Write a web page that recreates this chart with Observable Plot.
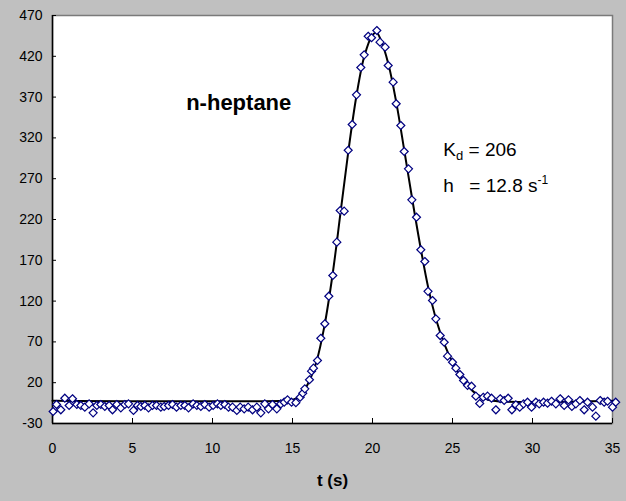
<!DOCTYPE html>
<html><head><meta charset="utf-8">
<script src="https://cdn.jsdelivr.net/npm/d3@7"></script>
<script src="https://cdn.jsdelivr.net/npm/@observablehq/plot@0.6"></script>
<style>html,body{margin:0;padding:0;background:#c0c0c0;}</style>
</head><body><div id="chart"></div>
<script>
// measured points (t in s, signal)
const tData = [0.04,0.25,0.52,0.77,1.04,1.25,1.52,1.77,2.02,2.29,2.54,2.77,3.02,3.27,3.54,3.75,4.02,4.27,4.52,4.75,
  5.06,5.31,5.52,5.77,6.0,6.25,6.5,6.77,6.98,7.25,7.5,7.75,8.02,8.27,8.5,8.79,9.02,9.27,9.52,9.79,
  10.04,10.31,10.52,10.77,11.0,11.25,11.52,11.73,11.98,12.23,12.5,12.77,13.02,13.27,13.5,13.75,14.02,14.27,14.48,14.69,
  14.94,15.21,15.48,15.64,15.77,16.06,16.19,16.31,16.56,16.77,17.02,17.27,17.52,17.77,17.98,18.23,18.48,18.73,19.0,19.27,
  19.48,19.73,19.94,20.27,20.47,20.79,20.98,21.29,21.48,21.77,21.98,22.25,22.46,22.75,23.02,23.27,23.47,23.75,23.96,24.23,
  24.48,24.69,25.0,25.21,25.46,25.69,25.94,26.19,26.46,26.7,26.92,27.19,27.44,27.71,27.98,28.23,28.48,28.71,28.96,29.2,
  29.44,29.69,29.94,30.21,30.42,30.69,30.94,31.19,31.46,31.73,31.98,32.25,32.46,32.71,32.96,33.23,33.44,33.75,33.96,34.23,
  34.48,34.69,35.0,35.2];
const vData = [-15.3,-6.7,-13.2,1,-7.9,0.3,-6.7,-7.9,-10,-5.9,-16.9,-7.9,-6.7,-9.2,-7.9,-13.2,-6.7,-10.8,-6.7,-5.9,
  -14,-7.9,-9.2,-7.9,-10.8,-7.9,-7.9,-10,-9.2,-7.9,-6.7,-10,-7.9,-7.9,-10.8,-5.9,-7.9,-9.2,-6.7,-10,
  -7.9,-5.9,-7.9,-6.7,-10,-10,-14,-10,-12,-10,-13.2,-10,-16.9,-5.9,-12,-6.7,-12,-5.9,-3.9,-1,
  -3.9,-4.5,2.2,7.1,12.5,23.6,34.1,37.8,47.2,74.5,92.2,126,151.4,192.2,231,230.2,304.9,336.4,372.8,406.3,
  421.8,444.6,442.7,451.6,437.3,431.2,408.7,388.3,361.8,335.2,303.3,282.1,244.1,222.8,182.9,168.5,132,120.7,98.3,77.8,
  69.6,52.5,45.1,37.8,30,22.7,16.6,15.7,3.5,-5.5,2.2,3.5,1,-13.2,0.3,-1.8,1,-13.2,-7.1,-10,
  -5.9,-3.9,-10,-3.9,-5.9,-3.9,-5.1,-2.7,-5.9,0.3,-7.9,-1,-9.2,-5.9,-1.8,-13.2,-3.9,-10,-21,-1.8,
  -3.9,-2.7,-10,-3.9];
// fitted model curve
const fitT = [0,14.5,15.0,15.5,16.0,16.5,17.0,17.5,18.0,18.5,19.0,19.5,20.0,20.25,20.5,21.0,21.5,22.0,22.5,23.0,23.5,24.0,24.5,25.0,25.5,26.0,26.5,27.0,27.5,35.3];
const fitV = [-2,-2,-1,4,20,46,90,152,228,305,372,421,446,449,441,410,362,303,243,186,135,96,67,45,28,15,6,1,-2,-2];
const xTicks = [0,5,10,15,20,25,30,35];
const yTicks = [-30,20,70,120,170,220,270,320,370,420,470];
const title = "n-heptane";
const kdText = ["K","d"," = 206"];
const hText = ["h","= 12.8 s","-1"];

const points = tData.map((t,i)=>({t, v:vData[i]}));
const fit = fitT.map((t,i)=>({t, v:fitV[i]}));
const font = "'Liberation Sans', Arial, sans-serif";

const plot = Plot.plot({
  width: 626, height: 501,
  marginLeft: 52, marginRight: 14, marginTop: 15, marginBottom: 78,
  style: {background: "#c0c0c0", fontFamily: font, fontSize: "14px", color: "#000", overflow: "visible"},
  x: {domain: [0, 35]},
  y: {domain: [-30, 470]},
  marks: [
    Plot.frame({fill: "white", stroke: "#7a7a7a", strokeWidth: 1.5}),
    Plot.ruleX([0], {stroke: "black", strokeWidth: 1.5}),
    Plot.ruleY([-30], {stroke: "black", strokeWidth: 1.5}),
    Plot.axisX({ticks: xTicks, tickSize: -5, tickPadding: 25, label: null, tickFormat: d => String(d)}),
    Plot.axisY({ticks: yTicks, tickSize: -4, tickPadding: 14, label: null, tickFormat: d => String(d)}),
    Plot.line(fit, {x: "t", y: "v", curve: "catmull-rom", stroke: "black", strokeWidth: 2}),
    Plot.dot(points, {x: "t", y: "v", symbol: "diamond2", r: 3.6, stroke: "#000080", fill: "white", strokeWidth: 1.2}),
    Plot.text([title], {x: 11.64, y: 363, text: d => d, fontWeight: "bold", fontSize: 22, fill: "black", lineAnchor: "middle"}),
    Plot.text(["t (s)"], {frameAnchor: "bottom", dy: 62, text: d => d, fontWeight: "bold", fontSize: 17, fill: "black"})
  ]
});

const sx = plot.scale("x"), sy = plot.scale("y");
const svg = d3.select(plot);
const x0 = sx.apply(24.46);
const t1 = svg.append("text").attr("x", x0).attr("y", sy.apply(297.2)).attr("text-anchor", "start")
  .attr("font-family", font).attr("font-size", 19).attr("fill", "black");
t1.append("tspan").text(kdText[0]);
t1.append("tspan").attr("font-size", 13).attr("dy", 4).text(kdText[1]);
t1.append("tspan").attr("dy", -4).text(kdText[2]);
const t2 = svg.append("text").attr("x", x0).attr("y", sy.apply(253.4)).attr("text-anchor", "start")
  .attr("font-family", font).attr("font-size", 19).attr("fill", "black");
t2.append("tspan").text(hText[0]);
t2.append("tspan").attr("x", x0 + 26).text(hText[1]);
t2.append("tspan").attr("font-size", 12).attr("dy", -8).text(hText[2]);

document.getElementById("chart").appendChild(plot);
</script>
</body></html>
